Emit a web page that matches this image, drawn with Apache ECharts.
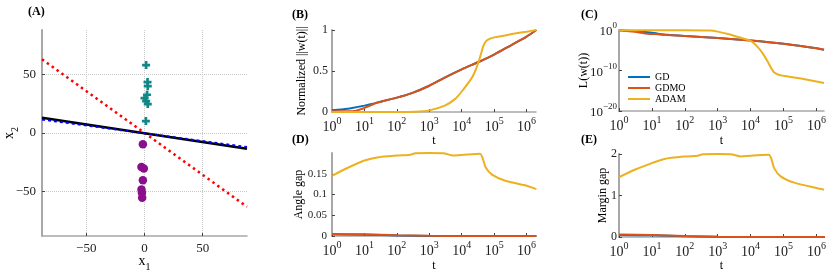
<!DOCTYPE html>
<html><head><meta charset="utf-8">
<script src="https://cdn.jsdelivr.net/npm/echarts@6/dist/echarts.min.js"></script>
<style>html,body{margin:0;padding:0;background:#fff}#c{width:830px;height:272px}</style>
</head><body><div id="c"></div>
<script>
// ---------- Panel A (data space) ----------
const posX = [1.4, 2.6, 2.8, 2.2, 0, 1.4, 2.8, 1.2];
const posY = [58, 43.5, 40, 32.7, 29.8, 27.3, 24.7, 10.2];
const negX = [-1.4, -2.6, -0.6, -1.4, -2.6, -2.2, -2.0];
const negY = [-9.6, -29, -30.4, -40.3, -48.3, -51, -55.4];
const sepX = [-88, 88];
const maxMarginY = [13, -13.5];
const gdDirY = [11.5, -12];
const adamDirY = [63, -63];
const tickA = [-50, 0, 50];

// ---------- Panel B: normalized ||w(t)|| ----------
const tB_GD = [1, 3, 5, 8, 10, 20, 27, 100, 290, 1e3, 3e3, 1e4, 3.3e4, 1e5, 3.5e5, 1e6, 2e6];
const normGD = [0.02, 0.04, 0.055, 0.07, 0.078, 0.105, 0.118, 0.175, 0.23, 0.32, 0.42, 0.52, 0.61, 0.70, 0.82, 0.92, 1.0];
const normGDMO = [0.008, 0.008, 0.012, 0.035, 0.05, 0.1, 0.118, 0.175, 0.23, 0.32, 0.42, 0.52, 0.61, 0.70, 0.82, 0.92, 1.0];
const tB_ADAM = [1, 100, 360, 1e3, 3e3, 6.3e3, 1e4, 2e4, 2.6e4, 3.3e4, 4e4, 4.6e4, 5.3e4, 6.3e4, 1e5, 3.5e5, 1e6, 2e6];
const normADAM = [0, 0, 0.003, 0.02, 0.077, 0.16, 0.25, 0.41, 0.5, 0.61, 0.72, 0.8, 0.85, 0.88, 0.91, 0.95, 0.98, 1.0];

// ---------- Panel C: log10 L(w(t)) ----------
const tC_GD = [1, 3, 7.5, 15, 30, 100, 1e3, 1e4, 1e5, 1e6, 1.7e6];
const logLossGD = [-0.05, -0.25, -0.55, -0.9, -1.2, -1.5, -2.0, -2.6, -3.4, -4.5, -4.9];
const logLossGDMO = [-0.05, -0.45, -0.9, -1.05, -1.25, -1.5, -2.0, -2.6, -3.4, -4.5, -4.9];
const tC_ADAM = [1, 100, 600, 1e3, 2.2e3, 4.4e3, 1e4, 1.6e4, 2.3e4, 3.3e4, 4.2e4, 5.2e4, 7.4e4, 1e5, 3.4e5, 1e6, 1.7e6];
const logLossADAM = [-0.05, -0.05, -0.15, -0.4, -1.05, -1.8, -2.7, -4.1, -5.7, -7.8, -9.4, -10.5, -11.1, -11.3, -12.0, -12.7, -13.1];

// ---------- Panel D: angle gap ----------
const tGap = [1, 10, 100, 1e3, 1e4, 2e6];
const angleGD = [0.004, 0.003, 0.0015, 0.0003, 0, 0];
const angleGDMO = [0.005, 0.004, 0.002, 0.0005, 0.0001, 0];
const tD_ADAM = [1, 3.2, 10, 27, 100, 260, 370, 1e3, 2.7e3, 5.4e3, 1e4, 3.7e4, 4.3e4, 5.5e4, 8.6e4, 2.2e5, 1e6, 2e6];
const angleADAM = [0.145, 0.165, 0.182, 0.19, 0.194, 0.196, 0.1995, 0.1998, 0.1995, 0.194, 0.195, 0.198, 0.19, 0.165, 0.148, 0.133, 0.121, 0.113];

// ---------- Panel E: margin gap ----------
const marginGD = [0.05, 0.04, 0.02, 0.004, 0, 0];
const marginGDMO = [0.06, 0.05, 0.025, 0.005, 0.001, 0];
const tE_ADAM = [1, 3, 10, 24, 100, 250, 350, 1e3, 2.5e3, 5e3, 1e4, 3.6e4, 4.2e4, 5.2e4, 8.2e4, 2.1e5, 1e6, 1.7e6];
const marginADAM = [1.44, 1.62, 1.78, 1.88, 1.94, 1.96, 1.995, 1.998, 1.995, 1.94, 1.96, 1.98, 1.9, 1.66, 1.46, 1.31, 1.18, 1.14];

const seriesNames = ['GD', 'GDMO', 'ADAM'];
const colors = { GD: '#0072BD', GDMO: '#D95319', ADAM: '#EDB120' };

const F = 'Liberation Serif';
const zip = (xs, ys) => xs.map((x, i) => [x, ys[i]]);
const pw = (xs, es) => xs.map((x, i) => [x, Math.pow(10, es[i])]);

function makeRich(base, sup) {
  return {
    b: { fontFamily: F, fontSize: base, color: '#222', lineHeight: base + 4, verticalAlign: 'bottom' },
    s: { fontFamily: F, fontSize: sup, color: '#222', lineHeight: sup, verticalAlign: 'top' },
    x: { fontFamily: F, fontSize: 14, color: '#000', lineHeight: 18, verticalAlign: 'top' },
    d: { fontFamily: F, fontSize: 10, color: '#000', lineHeight: 10, verticalAlign: 'bottom' }
  };
}
const rich = makeRich(14, 10);
const richC = makeRich(13, 9);
const axisLineX = { show: true, onZero: false, lineStyle: { color: '#a8a8a8', width: 1.5 } };
const axisLineY = { show: true, onZero: false, lineStyle: { color: '#a8a8a8', width: 2 } };
const tick = { show: true, inside: true, length: 3, lineStyle: { color: '#444', width: 1 } };
const lbl = size => ({ fontFamily: F, fontSize: size, color: '#222' });
const nameStyle = { fontFamily: F, fontSize: 12, color: '#000' };

function expLabel(v) {
  const e = Math.round(Math.log10(v));
  return '{b|10}{s|' + (e < 0 ? '\u2212' + (-e) : e) + '}';
}
function logX(gi, max, gap) {
  return {
    type: 'log', logBase: 10, gridIndex: gi, min: 1, max: max,
    name: 't', nameLocation: 'middle', nameGap: gap, nameTextStyle: nameStyle, nameMoveOverlap: false,
    axisLine: axisLineX, axisTick: tick, splitLine: { show: false },
    axisLabel: { formatter: expLabel, rich: rich, margin: 4, showMaxLabel: false, showMinLabel: true }
  };
}
function numY(gi, min, max, interval, name, gap, showMax, size, margin) {
  return {
    type: 'value', gridIndex: gi, min, max, interval,
    name, nameLocation: 'middle', nameGap: gap, nameTextStyle: nameStyle, nameMoveOverlap: false,
    axisLine: axisLineY, axisTick: tick, splitLine: { show: false },
    axisLabel: Object.assign({ margin: margin, showMaxLabel: showMax }, lbl(size))
  };
}
function line(name, data, xi, yi, extra) {
  return Object.assign({
    type: 'line', name, data, xAxisIndex: xi, yAxisIndex: yi,
    showSymbol: false, symbol: 'none', smooth: 0.25, clip: true,
    lineStyle: { color: colors[name], width: 2 }, itemStyle: { color: colors[name] },
    emphasis: { disabled: true }, animation: false
  }, extra || {});
}

const dotted = { type: 'dotted', color: '#c8c8c8', width: 1 };
const fmtMinus = v => String(v).replace('-', '\u2212');

const option = {
  animation: false,
  title: [
    { text: '(A)', left: 28, top: 6 },
    { text: '(B)', left: 292, top: 9 },
    { text: '(C)', left: 581, top: 9 },
    { text: '(D)', left: 292, top: 134 },
    { text: '(E)', left: 581, top: 134 }
  ].map(t => Object.assign(t, { padding: 0, textStyle: { fontFamily: F, fontSize: 12, fontWeight: 'bold', color: '#000' } })),
  legend: {
    data: seriesNames, orient: 'vertical', left: 628, top: 72, itemWidth: 22, itemHeight: 2,
    itemGap: 1, icon: 'rect', padding: 0, selectedMode: false,
    textStyle: { fontFamily: F, fontSize: 10, color: '#000', lineHeight: 10 }
  },
  grid: [
    { left: 42, top: 30, width: 205, height: 206 },
    { left: 332, top: 30, width: 204, height: 82 },
    { left: 619, top: 30, width: 205, height: 81 },
    { left: 332, top: 153, width: 204, height: 83 },
    { left: 619, top: 154, width: 205, height: 83 }
  ].map(g => Object.assign(g, { containLabel: false, outerBoundsMode: 'none' })),
  xAxis: [
    {
      type: 'value', gridIndex: 0, min: -88, max: 88,
      name: '{x|x}{d|1}', nameLocation: 'middle', nameGap: 18, nameMoveOverlap: false,
      nameTextStyle: { rich: rich },
      axisLine: axisLineX,
      axisTick: Object.assign({ customValues: tickA }, tick),
      axisLabel: Object.assign({ customValues: tickA, margin: 6, formatter: fmtMinus }, lbl(13)),
      splitLine: { show: true, lineStyle: dotted }
    },
    logX(1, 1.95e6, 23), logX(2, 1.7e6, 24), logX(3, 1.95e6, 24), logX(4, 1.7e6, 23)
  ],
  yAxis: [
    {
      type: 'value', gridIndex: 0, min: -88, max: 88,
      name: '{x|x}{d|2}', nameLocation: 'middle', nameGap: 22, nameMoveOverlap: false,
      nameTextStyle: { rich: rich },
      axisLine: axisLineY,
      axisTick: Object.assign({ customValues: tickA }, tick),
      axisLabel: Object.assign({ customValues: tickA, margin: 6, formatter: fmtMinus }, lbl(13)),
      splitLine: { show: true, lineStyle: dotted }
    },
    numY(1, 0, 1, 0.5, 'Normalized ||w(t)||', 24, true, 12, 4),
    {
      type: 'log', logBase: 10, gridIndex: 2, min: 1e-20, max: 1,
      name: 'L(w(t))', nameLocation: 'middle', nameGap: 29, nameTextStyle: nameStyle, nameMoveOverlap: false,
      axisLine: axisLineY, axisTick: tick, splitLine: { show: false },
      axisLabel: { formatter: expLabel, rich: richC, margin: 2 }
    },
    numY(3, 0, 0.2, 0.05, 'Angle gap', 27, false, 11, 5),
    numY(4, 0, 2, 1, 'Margin gap', 10, true, 12, 2)
  ],
  series: [
    // Panel A
    { type: 'line', data: zip(sepX, adamDirY), xAxisIndex: 0, yAxisIndex: 0, symbol: 'none', animation: false,
      lineStyle: { color: '#ff0000', width: 2.5, type: [2.5, 3.5] }, z: 3 },
    { type: 'line', data: zip(sepX, maxMarginY), xAxisIndex: 0, yAxisIndex: 0, symbol: 'none', animation: false,
      lineStyle: { color: '#000000', width: 2.5 }, z: 3 },
    { type: 'line', data: zip(sepX, gdDirY), xAxisIndex: 0, yAxisIndex: 0, symbol: 'none', animation: false,
      lineStyle: { color: '#0000ff', width: 2, type: [3, 3] }, z: 4 },
    { type: 'scatter', data: zip(posX, posY), xAxisIndex: 0, yAxisIndex: 0, animation: false,
      symbol: 'path://M2,0H4V2H6V4H4V6H2V4H0V2H2Z', symbolSize: 8,
      itemStyle: { color: '#108888', opacity: 1 }, z: 2 },
    { type: 'scatter', data: zip(negX, negY), xAxisIndex: 0, yAxisIndex: 0, animation: false,
      symbol: 'circle', symbolSize: 8.5,
      itemStyle: { color: '#8a0f8c', opacity: 1 }, z: 2 },
    // Panel B
    line('GD', zip(tB_GD, normGD), 1, 1),
    line('GDMO', zip(tB_GD, normGDMO), 1, 1),
    line('ADAM', zip(tB_ADAM, normADAM), 1, 1),
    // Panel C
    line('GD', pw(tC_GD, logLossGD), 2, 2),
    line('GDMO', pw(tC_GD, logLossGDMO), 2, 2),
    line('ADAM', pw(tC_ADAM, logLossADAM), 2, 2),
    // Panel D
    line('GD', zip(tGap, angleGD), 3, 3),
    line('GDMO', zip(tGap, angleGDMO), 3, 3),
    line('ADAM', zip(tD_ADAM, angleADAM), 3, 3),
    // Panel E
    line('GD', zip(tGap, marginGD), 4, 4),
    line('GDMO', zip(tGap, marginGDMO), 4, 4),
    line('ADAM', zip(tE_ADAM, marginADAM), 4, 4)
  ]
};
const chart = echarts.init(document.getElementById('c'), null, { renderer: 'canvas' });
chart.setOption(option);
</script>
</body></html>
